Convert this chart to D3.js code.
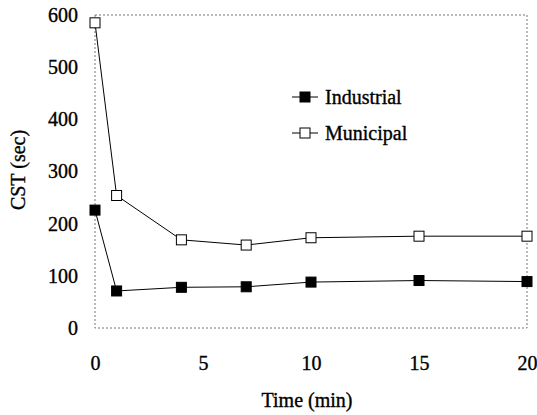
<!DOCTYPE html>
<html><head><meta charset="utf-8">
<script src="https://cdn.jsdelivr.net/npm/d3@7/dist/d3.min.js"></script>
<style>body{margin:0;background:#fff} svg text{font-family:"Liberation Serif","Times New Roman",serif;fill:#000;stroke:#000;stroke-width:0.35px}</style>
</head><body>
<script>
const times = [0, 1, 4, 7, 10, 15, 20];
const industrial = [226, 71, 78, 79, 88, 91, 89];
const municipal = [585, 254, 169, 159, 173, 176, 176];
const xTicks = [0, 5, 10, 15, 20];
const yTicks = [0, 100, 200, 300, 400, 500, 600];
const seriesNames = ["Industrial", "Municipal"];

const W = 537, H = 415;
const m = {left: 95, right: 10, top: 15, bottom: 87};
const svg = d3.select("body").append("svg").attr("width", W).attr("height", H);
const x = d3.scaleLinear().domain([0, 20]).range([m.left, W - m.right]);
const y = d3.scaleLinear().domain([0, 600]).range([H - m.bottom, m.top]);
const FS = 20;
const FF = '"Liberation Serif","Times New Roman",serif';

// frame
svg.append("rect").attr("x", x(0)).attr("y", y(600)).attr("width", x(20) - x(0)).attr("height", y(0) - y(600))
  .attr("fill", "none").attr("stroke", "#777").attr("stroke-width", 1).attr("stroke-dasharray", "2,2");

// axes
const yAxis = d3.axisLeft(y).tickValues(yTicks).tickSize(0).tickPadding(17);
svg.append("g").attr("transform", `translate(${x(0)},0)`).call(yAxis)
  .attr("font-family", FF).attr("font-size", FS)
  .call(g => g.select(".domain").remove())
  .call(g => g.selectAll("text").style("font-family", FF).attr("font-size", FS).attr("fill", "#000"));
const xAxis = d3.axisBottom(x).tickValues(xTicks).tickSize(0).tickPadding(28);
svg.append("g").attr("transform", `translate(0,${y(0)})`).call(xAxis)
  .attr("font-family", FF).attr("font-size", FS)
  .call(g => g.select(".domain").remove())
  .call(g => g.selectAll("text").style("font-family", FF).attr("font-size", FS).attr("fill", "#000"));

svg.append("text").attr("x", 307).attr("y", 407).attr("text-anchor", "middle")
  .attr("font-size", FS).text("Time (min)");
svg.append("text").attr("transform", `translate(25,170) rotate(-90)`).attr("text-anchor", "middle")
  .attr("font-size", FS).text("CST (sec)");

const line = d3.line().x(d => x(d[0])).y(d => y(d[1]));
const sets = [
  {name: seriesNames[0], vals: industrial, fill: "#000"},
  {name: seriesNames[1], vals: municipal, fill: "#fff"}
];
const S = 10;
sets.forEach(s => {
  const pts = times.map((t, i) => [t, s.vals[i]]);
  svg.append("path").datum(pts).attr("d", line).attr("fill", "none").attr("stroke", "#000").attr("stroke-width", 1);
  svg.selectAll(null).data(pts).enter().append("rect")
    .attr("x", d => x(d[0]) - S / 2).attr("y", d => y(d[1]) - S / 2).attr("width", S).attr("height", S)
    .attr("fill", s.fill).attr("stroke", "#000").attr("stroke-width", 1);
});

// legend
sets.forEach((s, i) => {
  const ly = 97 + i * 36;
  const g = svg.append("g");
  g.append("line").attr("x1", 292).attr("x2", 318).attr("y1", ly).attr("y2", ly).attr("stroke", "#000");
  g.append("rect").attr("x", 305 - S / 2).attr("y", ly - S / 2).attr("width", S).attr("height", S)
    .attr("fill", s.fill).attr("stroke", "#000");
  g.append("text").attr("x", 325).attr("y", ly + 7).attr("font-size", FS).text(s.name);
});
</script>
</body></html>
